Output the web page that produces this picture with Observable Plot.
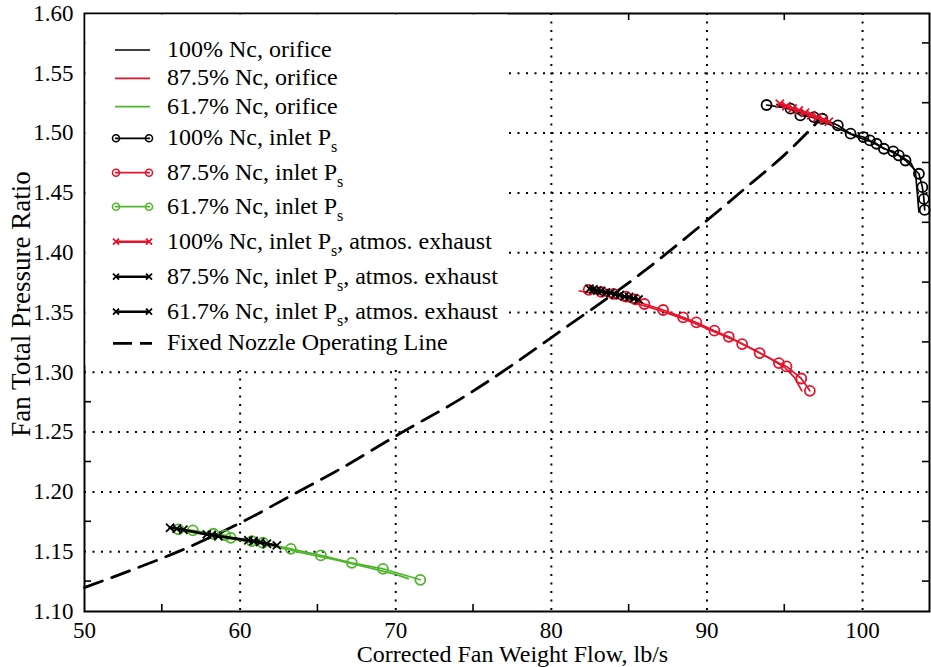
<!DOCTYPE html>
<html><head><meta charset="utf-8">
<script src="https://cdn.jsdelivr.net/npm/d3@7"></script>
<script src="https://cdn.jsdelivr.net/npm/@observablehq/plot@0.6"></script>
<style>
html,body{margin:0;padding:0;background:#fff;}
#chart svg{display:block;}
</style></head><body><div id="chart"></div>
<script>
const RED = "#e5132b", GREEN = "#50b52e", BLACK = "#000";

// axis ticks
const xTicks = [50, 60, 70, 80, 90, 100];
const yTicks = [1.10, 1.15, 1.20, 1.25, 1.30, 1.35, 1.40, 1.45, 1.50, 1.55, 1.60];
const xMinor = [55, 65, 75, 85, 95];
const yMinor = [1.125, 1.175, 1.225, 1.275, 1.325, 1.375, 1.425, 1.475, 1.525, 1.575];

// 100% Nc, orifice
const orif100X = [94.5, 95.5, 96.5, 97.5, 98.5, 99.5, 100.5, 101.5, 102.5, 103.1, 103.4, 103.62];
const orif100Y = [1.524, 1.519, 1.5145, 1.5095, 1.5035, 1.4975, 1.493, 1.4865, 1.4805, 1.475, 1.4673, 1.434];
// 87.5% Nc, orifice
const orif875X = [81.8, 83.0, 84.0, 85.0, 86.0, 87.0, 88.0, 89.0, 90.0, 91.0, 92.0, 93.0, 94.0, 95.0, 95.6, 96.1];
const orif875Y = [1.368, 1.3655, 1.3625, 1.359, 1.3555, 1.3515, 1.347, 1.342, 1.3365, 1.331, 1.3255, 1.319, 1.312, 1.304, 1.296, 1.2845];
// 61.7% Nc, orifice
const orif617X = [56.0, 58.0, 60.0, 62.0, 64.0, 66.0, 68.0, 70.0, 70.8];
const orif617Y = [1.168, 1.164, 1.1595, 1.155, 1.149, 1.1435, 1.1375, 1.131, 1.1275];

// 100% Nc, inlet Ps
const ps100X = [93.83, 95.37, 96.0, 96.87, 97.41, 98.41, 99.23, 100.05, 100.47, 100.9, 101.37, 101.97, 102.33, 102.76, 103.62, 103.84, 103.94, 103.99];
const ps100Y = [1.5235, 1.5204, 1.5148, 1.5134, 1.512, 1.5065, 1.4995, 1.4967, 1.4939, 1.4911, 1.4869, 1.4847, 1.4813, 1.4771, 1.466, 1.4548, 1.445, 1.4358];
// 87.5% Nc, inlet Ps
const ps875X = [82.4, 83.2, 84.0, 84.8, 85.4, 85.98, 87.18, 88.47, 89.32, 90.48, 91.4, 92.26, 93.38, 94.62, 95.11, 96.06, 96.61];
const ps875Y = [1.369, 1.3672, 1.3655, 1.3632, 1.361, 1.3571, 1.3521, 1.3459, 1.3417, 1.3348, 1.3297, 1.3236, 1.3161, 1.3077, 1.3049, 1.2948, 1.2845];
// 61.7% Nc, inlet Ps
const ps617X = [56.03, 56.96, 58.28, 59.04, 59.4, 60.75, 61.46, 63.26, 65.19, 67.18, 69.18, 71.58];
const ps617Y = [1.1687, 1.1678, 1.165, 1.1637, 1.1616, 1.1589, 1.1575, 1.1524, 1.1469, 1.1407, 1.1357, 1.1265];

// 100% Nc, inlet Ps, atmos. exhaust
const atm100X = [94.68, 95.1, 95.5, 95.9, 96.3, 96.7, 97.1, 97.5, 97.83];
const atm100Y = [1.5245, 1.5225, 1.5205, 1.519, 1.517, 1.515, 1.513, 1.511, 1.5095];
// 87.5% Nc, inlet Ps, atmos. exhaust
const atm875X = [82.45, 82.7, 82.95, 83.2, 83.5, 83.8, 84.1, 84.4, 84.7, 85.0, 85.3, 85.6];
const atm875Y = [1.3698, 1.3693, 1.3683, 1.368, 1.3668, 1.3664, 1.3651, 1.3646, 1.3634, 1.363, 1.3617, 1.3608];
// 61.7% Nc, inlet Ps, atmos. exhaust
const atm617X = [55.5, 55.93, 56.35, 57.86, 58.18, 58.6, 60.53, 60.86, 61.29, 61.72, 62.36];
const atm617Y = [1.170, 1.1692, 1.1683, 1.1645, 1.1639, 1.163, 1.1595, 1.1589, 1.158, 1.1566, 1.1553];

// Fixed Nozzle Operating Line
const opX = [50, 53.0, 56.1, 60.0, 63.5, 66.0, 70.3, 74.2, 81.2, 85.7, 90.0, 92.8, 95.0, 97.3];
const opY = [1.120, 1.1345, 1.1505, 1.174, 1.1985, 1.216, 1.249, 1.278, 1.340, 1.382, 1.427, 1.4576, 1.482, 1.512];

const pts = (xs, ys) => xs.map((x, i) => ({x, y: ys[i]}));

const legendItems = [
  {label: ["100% Nc, orifice"], color: BLACK, kind: "line"},
  {label: ["87.5% Nc, orifice"], color: RED, kind: "line"},
  {label: ["61.7% Nc, orifice"], color: GREEN, kind: "line"},
  {label: ["100% Nc, inlet P", "s", ""], color: BLACK, kind: "circle"},
  {label: ["87.5% Nc, inlet P", "s", ""], color: RED, kind: "circle"},
  {label: ["61.7% Nc, inlet P", "s", ""], color: GREEN, kind: "circle"},
  {label: ["100% Nc, inlet P", "s", ", atmos. exhaust"], color: RED, kind: "cross"},
  {label: ["87.5% Nc, inlet P", "s", ", atmos. exhaust"], color: BLACK, kind: "cross"},
  {label: ["61.7% Nc, inlet P", "s", ", atmos. exhaust"], color: BLACK, kind: "cross"},
  {label: ["Fixed Nozzle Operating Line"], color: BLACK, kind: "dash"}
];

const FONT = '"Liberation Serif", "Times New Roman", Times, serif';
const grid = {stroke: "#000", strokeWidth: 2, strokeDasharray: "2,6.5"};
const LW = 1.7;

const chart = Plot.plot({
  width: 931, height: 667,
  marginLeft: 84, marginRight: 2, marginTop: 13, marginBottom: 56,
  style: {fontFamily: FONT, fontSize: "23px", background: "#fff", color: "#000"},
  x: {domain: [50, 104.3]},
  y: {domain: [1.10, 1.60]},
  marks: [
    Plot.ruleX(xTicks.slice(1), grid),
    Plot.ruleY(yTicks.slice(1, -1), grid),
    Plot.line(pts(opX, opY), {x: "x", y: "y", curve: "monotone-x", stroke: BLACK, strokeWidth: 2.8, strokeDasharray: "19,10"}),
    // 61.7%
    Plot.line(pts(orif617X, orif617Y), {x: "x", y: "y", stroke: GREEN, strokeWidth: LW}),
    Plot.line(pts(ps617X, ps617Y), {x: "x", y: "y", stroke: GREEN, strokeWidth: LW}),
    Plot.dot(pts(ps617X, ps617Y), {x: "x", y: "y", r: 5, stroke: GREEN, strokeWidth: 1.8, fill: "none"}),
    Plot.line(pts(atm617X, atm617Y), {x: "x", y: "y", stroke: BLACK, strokeWidth: 2.6}),
    Plot.dot(pts(atm617X, atm617Y), {x: "x", y: "y", symbol: "times", r: 3.8, stroke: BLACK, strokeWidth: 1.8}),
    // 87.5%
    Plot.line(pts(orif875X, orif875Y), {x: "x", y: "y", stroke: RED, strokeWidth: LW}),
    Plot.line(pts(ps875X, ps875Y), {x: "x", y: "y", stroke: RED, strokeWidth: LW}),
    Plot.dot(pts(ps875X, ps875Y), {x: "x", y: "y", r: 5, stroke: RED, strokeWidth: 1.8, fill: "none"}),
    Plot.line(pts(atm875X, atm875Y), {x: "x", y: "y", stroke: BLACK, strokeWidth: 2.6}),
    Plot.dot(pts(atm875X, atm875Y), {x: "x", y: "y", symbol: "times", r: 3.8, stroke: BLACK, strokeWidth: 1.8}),
    // 100%
    Plot.line(pts(orif100X, orif100Y), {x: "x", y: "y", stroke: BLACK, strokeWidth: LW}),
    Plot.line(pts(ps100X, ps100Y), {x: "x", y: "y", stroke: BLACK, strokeWidth: LW}),
    Plot.dot(pts(ps100X, ps100Y), {x: "x", y: "y", r: 5, stroke: BLACK, strokeWidth: 1.8, fill: "none"}),
    Plot.line(pts(atm100X, atm100Y), {x: "x", y: "y", stroke: RED, strokeWidth: 2.6}),
    Plot.dot(pts(atm100X, atm100Y), {x: "x", y: "y", symbol: "times", r: 3.8, stroke: RED, strokeWidth: 1.8}),
    Plot.axisX({ticks: xTicks, tickSize: 0, tickPadding: 10, fontSize: 23, tickFormat: d => String(d), label: null}),
    Plot.axisY({ticks: yTicks, tickSize: 0, tickPadding: 11, fontSize: 23, tickFormat: d => d.toFixed(2), label: null}),
    Plot.frame({stroke: "#000", strokeWidth: 2})
  ]
});
document.getElementById("chart").append(chart);

// decorations using the plot's own scales
const sx = chart.scale("x"), sy = chart.scale("y");
const svg = d3.select(chart);
const X0 = sx.apply(50), X1 = sx.apply(104.3), Y0 = sy.apply(1.10), Y1 = sy.apply(1.60);
const TL = 7;
const tg = svg.append("g").attr("stroke", "#000").attr("stroke-width", 1.6);
xMinor.forEach(v => {
  const px = sx.apply(v);
  tg.append("line").attr("x1", px).attr("x2", px).attr("y1", Y0).attr("y2", Y0 - TL);
  tg.append("line").attr("x1", px).attr("x2", px).attr("y1", Y1).attr("y2", Y1 + TL);
});
yMinor.forEach(v => {
  const py = sy.apply(v);
  tg.append("line").attr("x1", X0).attr("x2", X0 + TL).attr("y1", py).attr("y2", py);
  tg.append("line").attr("x1", X1).attr("x2", X1 - TL).attr("y1", py).attr("y2", py);
});

// axis titles
svg.append("text").attr("x", (X0 + X1) / 2 + 6).attr("y", 662).attr("text-anchor", "middle")
  .attr("font-family", FONT).attr("font-size", 24).text("Corrected Fan Weight Flow, lb/s");
svg.append("text").attr("transform", `translate(30,${(Y0 + Y1) / 2 - 8}) rotate(-90)`).attr("text-anchor", "middle")
  .attr("font-family", FONT).attr("font-size", 27).text("Fan Total Pressure Ratio");

// legend (inside the plot, upper left)
const lg = svg.append("g").attr("font-family", FONT).attr("font-size", 24).attr("text-anchor", "start");
lg.append("rect").attr("x", X0 + 1.5).attr("y", Y1 + 1.5).attr("width", 506 - X0).attr("height", 364 - Y1).attr("fill", "#fff");
const rowY = [50, 78.3, 106.7, 138.3, 172.7, 206.7, 241.7, 276.7, 311.7, 343.3];
const sx1 = 115, sx2 = 150, tx = 167;
legendItems.forEach((it, i) => {
  const y = rowY[i];
  const g = lg.append("g");
  if (it.kind === "dash") {
    g.append("line").attr("x1", sx1 - 2).attr("x2", sx2 + 2).attr("y1", y).attr("y2", y)
      .attr("stroke", it.color).attr("stroke-width", 2.8).attr("stroke-dasharray", "19,8");
  } else {
    g.append("line").attr("x1", sx1).attr("x2", sx2).attr("y1", y).attr("y2", y)
      .attr("stroke", it.color).attr("stroke-width", it.kind === "cross" ? 2.6 : LW);
  }
  if (it.kind === "circle") {
    [sx1 + 1, sx2 - 1].forEach(cx => g.append("circle").attr("cx", cx).attr("cy", y).attr("r", 3.5)
      .attr("fill", "none").attr("stroke", it.color).attr("stroke-width", 1.6));
  }
  if (it.kind === "cross") {
    [sx1 + 1, sx2 - 1].forEach(cx => g.append("path")
      .attr("d", `M${cx - 3},${y - 3}L${cx + 3},${y + 3}M${cx - 3},${y + 3}L${cx + 3},${y - 3}`)
      .attr("stroke", it.color).attr("stroke-width", 1.8));
  }
  const t = g.append("text").attr("x", tx).attr("y", y + 7).attr("fill", "#000").attr("text-anchor", "start");
  t.append("tspan").text(it.label[0]);
  if (it.label.length > 1) {
    t.append("tspan").attr("dy", 7).attr("font-size", 16).text(it.label[1]);
    if (it.label[2]) t.append("tspan").attr("dy", -7).text(it.label[2]);
  }
});
</script>
</body></html>
